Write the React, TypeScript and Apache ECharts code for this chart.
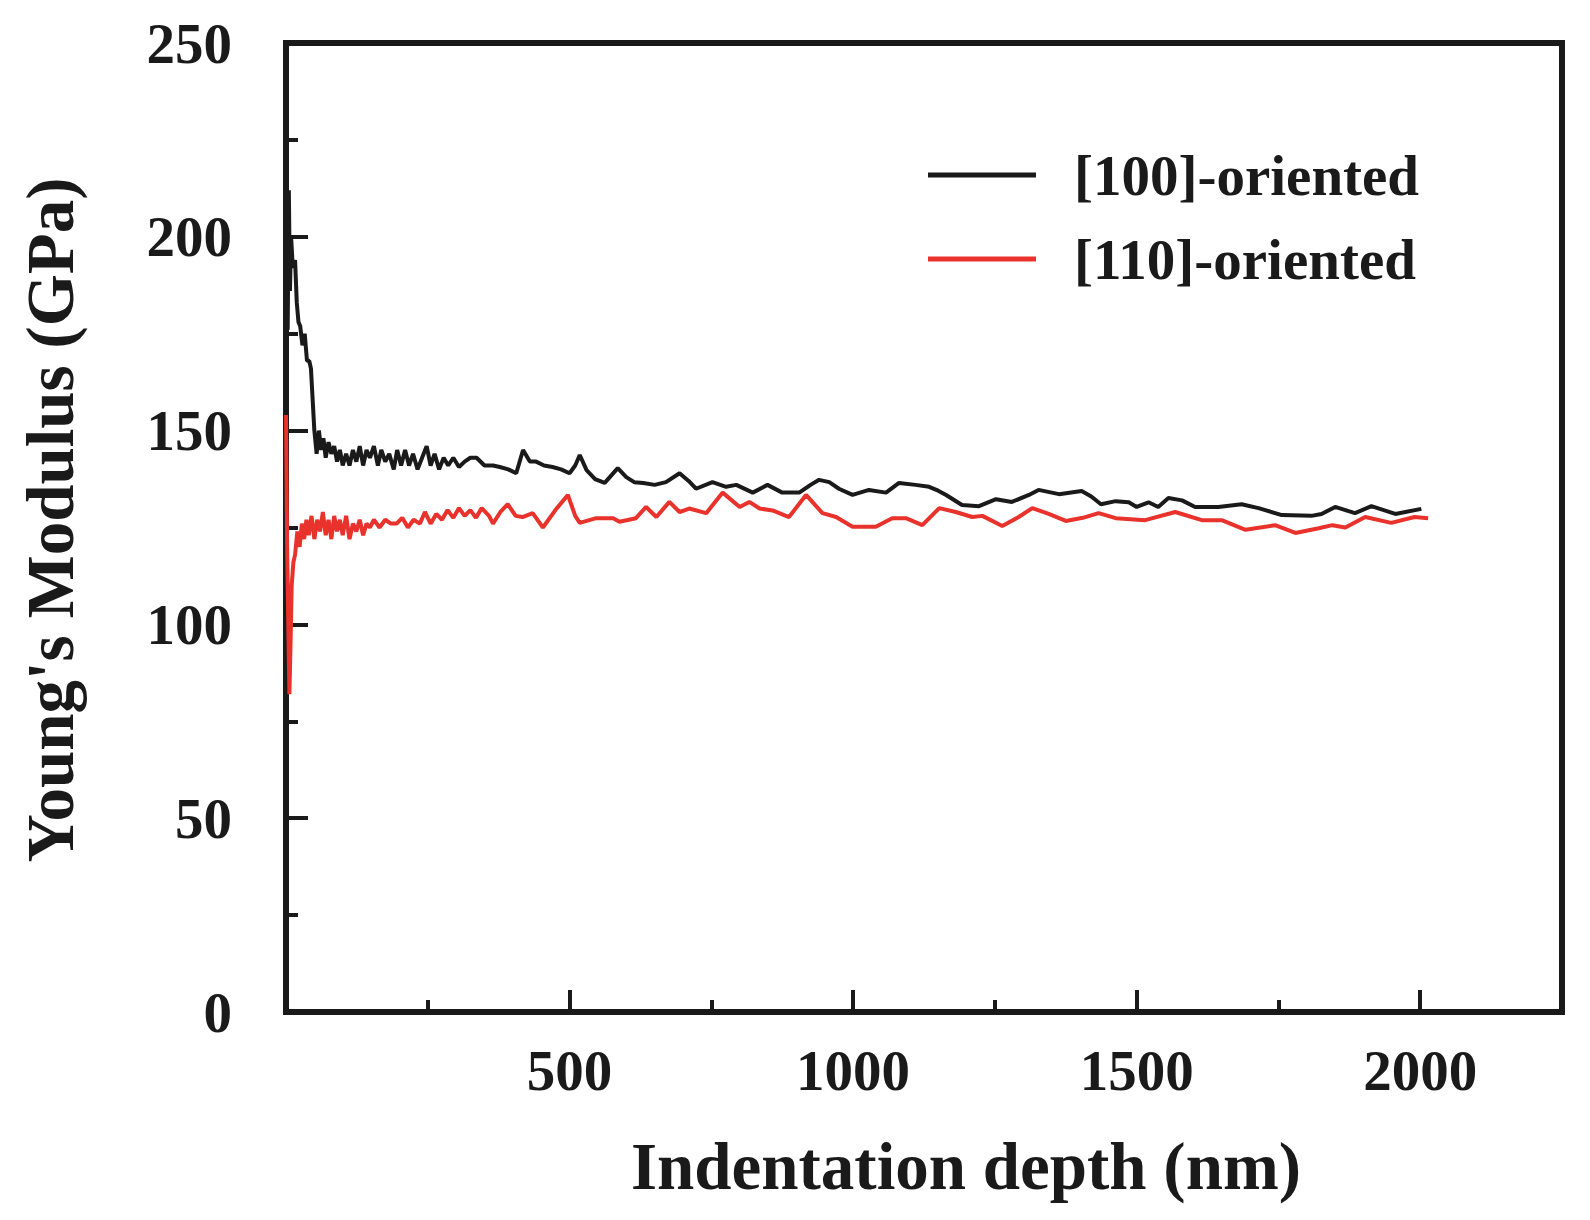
import React, { useEffect, useRef } from "react";
import * as echarts from "echarts";

const seriesNames = ["[100]-oriented", "[110]-oriented"];
const xTickLabels = ["500", "1000", "1500", "2000"];

const depth100 = [
  0, 1, 3, 5, 7, 9, 12, 16, 19, 22, 25, 29, 33, 37, 41, 44, 47, 50, 54, 58, 62, 66, 70, 75, 80, 85, 90, 95, 100,
  106, 112, 118, 124, 130, 136, 142, 148, 155, 162, 168, 175, 182, 190, 196, 203, 210, 217, 224, 232, 240, 248,
  255, 262, 270, 278, 286, 295, 305, 315, 325, 336, 350, 365, 377, 392, 406, 418, 430, 441, 455, 470, 485, 500,
  510, 518, 530, 545, 562, 585, 600, 614, 630, 650, 670, 694, 710, 723, 752, 776, 794, 823, 849, 875, 905, 925,
  940, 958, 975, 999, 1028, 1058, 1081, 1110, 1134, 1150, 1164, 1192, 1222, 1252, 1280, 1310, 1327, 1363, 1403,
  1420, 1437, 1463, 1486, 1500, 1521, 1538, 1556, 1580, 1603, 1644, 1685, 1715, 1756, 1808, 1826, 1850, 1885,
  1914, 1956, 2002,
];
const modulus100 = [
  155, 226, 176, 212, 186, 200, 192, 194, 183, 178, 177, 172, 175, 168, 168, 166, 158, 150, 144, 150, 145, 148,
  143, 147, 144, 146, 142, 145, 141, 144, 141, 145, 142, 146, 141, 145, 143, 146, 141, 145, 142, 144, 140, 145,
  141, 145, 141, 144, 140, 143, 146, 141, 144, 140, 143, 141, 143, 140.6, 142, 143, 143, 141, 141, 140.6, 140,
  139, 145, 142, 142, 141, 140.6, 140, 139, 141, 143.7, 139.8, 137.5, 136.5, 140.3, 138, 136.7, 136.5, 136,
  136.7, 139, 137, 135, 136.7, 135.5, 136, 134, 136, 134, 134, 136, 137.3, 136.7, 135, 133.4, 134.7, 134, 136.5,
  136, 135.5, 134.5, 133.4, 130.8, 130.5, 132.3, 131.6, 133.4, 134.7, 133.6, 134.4, 133, 131, 131.8, 131.5,
  130.3, 131.5, 130.3, 132.6, 132, 130.3, 130.3, 131, 130, 128.2, 128, 128.5, 130.3, 128.7, 130.5, 128.5, 129.8,
];

const depth110 = [
  0, 2, 4, 6, 8, 10, 13, 16, 20, 24, 28, 32, 36, 40, 45, 50, 55, 60, 65, 70, 75, 80, 85, 90, 95, 100, 106, 112,
  118, 124, 130, 136, 142, 148, 155, 165, 175, 185, 195, 205, 215, 225, 236, 245, 255, 265, 275, 285, 295, 305,
  315, 325, 335, 345, 358, 365, 378, 391, 405, 417, 435, 453, 475, 497, 510, 518, 547, 577, 588, 617, 635, 653,
  676, 694, 711, 741, 770, 800, 817, 835, 858, 887, 917, 946, 970, 999, 1040, 1069, 1093, 1122, 1152, 1181,
  1210, 1228, 1263, 1292, 1316, 1345, 1375, 1405, 1433, 1463, 1515, 1568, 1615, 1650, 1692, 1744, 1780, 1821,
  1845, 1868, 1903, 1949, 1990, 2014,
];
const modulus110 = [
  154, 120, 100, 82, 95, 110, 116, 118, 124, 120, 126, 122, 127, 123, 128, 122, 127, 124, 129, 123, 127, 122,
  128, 124, 127, 123, 128, 122, 126, 124, 127, 123, 126, 125, 127, 125, 127, 126, 126, 127.5, 125, 127, 126,
  129, 126, 128.5, 127, 129.5, 127.5, 130, 128, 129.5, 127.5, 130, 128, 126, 129, 131, 128, 127.7, 128.7, 125,
  129.5, 133.4, 128, 126.2, 127.4, 127.4, 126.5, 127.4, 130.3, 127.7, 131.6, 129, 129.9, 128.7, 134, 130.3,
  131.6, 129.9, 129.4, 127.7, 133.4, 128.7, 127.7, 125.2, 125.2, 127.4, 127.4, 125.6, 130, 129, 127.7, 128,
  125.4, 127.7, 130, 128.5, 126.7, 127.5, 128.7, 127.4, 126.9, 129, 126.9, 126.9, 124.4, 125.6, 123.6, 124.8,
  125.6, 125, 127.7, 126.2, 127.7, 127.4,
];

const zip = (xs: number[], ys: number[]) => xs.map((x, i) => [x, ys[i]]);

const FONT = "'Liberation Serif', 'DejaVu Serif', serif";
const INK = "#1a1a1a";
const RED = "#e8322b";

export default function App() {
  const ref = useRef<HTMLDivElement>(null);
  useEffect(() => {
    document.body.style.margin = "0";
    const chart = echarts.init(ref.current!, null, { renderer: "svg" });
    chart.setOption({
      animation: false,
      backgroundColor: "#ffffff",
      grid: {
        left: 286,
        top: 43,
        width: 1276,
        height: 969,
        show: true,
        borderColor: INK,
        borderWidth: 6,
        backgroundColor: "transparent",
      },
      legend: {
        orient: "vertical",
        left: 923,
        top: 140,
        itemWidth: 108,
        itemHeight: 5,
        itemGap: 24,
        icon: "rect",
        data: seriesNames,
        textStyle: {
          fontFamily: FONT,
          fontWeight: "bold",
          fontSize: 57,
          color: INK,
          lineHeight: 60,
          padding: [0, 0, 0, 33],
        },
      },
      xAxis: {
        type: "value",
        min: 0,
        max: 2250,
        interval: 500,
        axisLine: { show: true, lineStyle: { color: INK, width: 6 } },
        axisTick: { show: true, inside: true, length: 22, lineStyle: { color: INK, width: 4 } },
        minorTick: { show: true, splitNumber: 2, length: 12, lineStyle: { color: INK, width: 4 } },
        splitLine: { show: false },
        axisLabel: {
          margin: 30,
          showMaxLabel: false,
          fontFamily: FONT,
          fontWeight: "bold",
          fontSize: 57,
          color: INK,
          formatter: (v: number) => (xTickLabels.includes(String(v)) ? String(v) : ""),
        },
      },
      yAxis: {
        type: "value",
        min: 0,
        max: 250,
        interval: 50,
        axisLine: { show: true, lineStyle: { color: INK, width: 6 } },
        axisTick: { show: true, inside: true, length: 22, lineStyle: { color: INK, width: 4 } },
        minorTick: { show: true, splitNumber: 2, length: 12, lineStyle: { color: INK, width: 4 } },
        splitLine: { show: false },
        axisLabel: {
          margin: 54,
          fontFamily: FONT,
          fontWeight: "bold",
          fontSize: 57,
          color: INK,
        },
      },
      graphic: [
        {
          type: "text",
          x: 966,
          y: 1166,
          style: {
            text: "Indentation depth (nm)",
            font: `bold 67px ${FONT}`,
            fill: INK,
            align: "center",
            verticalAlign: "middle",
          },
        },
        {
          type: "text",
          x: 50,
          y: 520,
          rotation: Math.PI / 2,
          style: {
            text: "Young's Modulus (GPa)",
            font: `bold 67px ${FONT}`,
            fill: INK,
            align: "center",
            verticalAlign: "middle",
          },
        },
      ],
      series: [
        {
          name: seriesNames[0],
          type: "line",
          data: zip(depth100, modulus100),
          symbol: "none",
          lineStyle: { color: INK, width: 4 },
          itemStyle: { color: INK },
          z: 3,
        },
        {
          name: seriesNames[1],
          type: "line",
          data: zip(depth110, modulus110),
          symbol: "none",
          lineStyle: { color: RED, width: 4 },
          itemStyle: { color: RED },
          z: 2,
        },
      ],
    });
    return () => chart.dispose();
  }, []);
  return <div ref={ref} style={{ width: 1590, height: 1220 }} />;
}
